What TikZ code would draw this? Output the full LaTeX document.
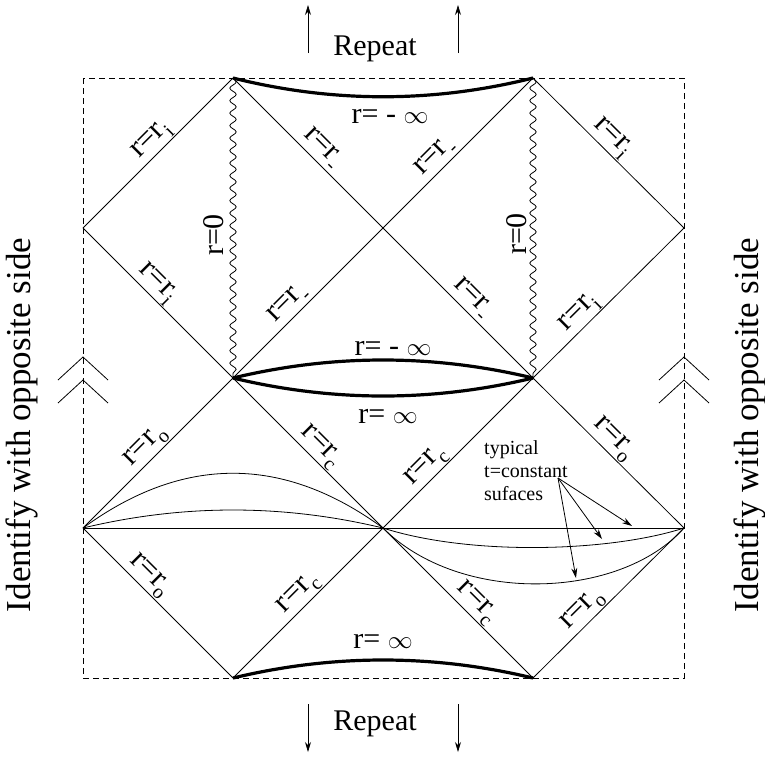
\documentclass[tikz,border=0pt]{standalone}
\usepackage{fontspec}
\setmainfont{Liberation Serif}
\usetikzlibrary{arrows.meta,decorations.pathmorphing}
\newcommand\sbs[1]{\raisebox{-0.25em}{\fontsize{20}{20}\selectfont #1}}
\begin{document}
\begin{tikzpicture}[x=1pt,y=-1pt,
  thinline/.style={line width=0.8pt},
  infty/.style={line width=3.2pt},
  wavy/.style={line width=0.8pt, decorate, decoration={snake, segment length=12.5pt, amplitude=3.2pt}},
  lab/.style={sloped, above, inner sep=1pt, font=\fontsize{31}{32}\selectfont},
  big/.style={font=\fontsize{30}{32}\selectfont, inner sep=0pt},
  side/.style={font=\fontsize{35}{36}\selectfont, inner sep=0pt, rotate=90},
  small/.style={font=\fontsize{20}{23}\selectfont, inner sep=0pt, align=left},
  tip/.style={-{Stealth[length=10pt,width=6pt]}, line width=0.8pt},
  dashbox/.style={line width=0.8pt, dash pattern=on 6pt off 4pt},
]
\useasboundingbox (0,0) rectangle (765,758);
% vertices
\coordinate (T1) at (233,78);  \coordinate (T2) at (533,78);
\coordinate (L1) at (83,228);  \coordinate (C1) at (383,228); \coordinate (R1) at (684,228);
\coordinate (M1) at (233,378); \coordinate (M2) at (533,378);
\coordinate (L2) at (83,528);  \coordinate (C2) at (383,528); \coordinate (R2) at (684,528);
\coordinate (B1) at (233,678); \coordinate (B2) at (533,678);
% dashed frame
\draw[dashbox] (83,78) rectangle (684,678);
% upper diamonds
\draw[thinline] (L1) -- node[lab,pos=.52]{r=r\sbs{i}} (T1);
\draw[thinline] (L1) -- node[lab,pos=.43]{r=r\sbs{i}} (M1);
\draw[thinline] (T1) -- node[lab,pos=.53]{r=r\sbs{-}} (C1);
\draw[thinline] (C1) -- node[lab,pos=.41]{r=r\sbs{-}} (T2);
\draw[thinline] (T2) -- node[lab,pos=.46]{r=r\sbs{i}} (R1);
\draw[thinline] (M2) -- node[lab,pos=.37]{r=r\sbs{i}} (R1);
\draw[thinline] (M1) -- node[lab,pos=.43]{r=r\sbs{-}} (C1);
\draw[thinline] (C1) -- node[lab,pos=.53]{r=r\sbs{-}} (M2);
% lower diamonds
\draw[thinline] (L2) -- node[lab,pos=.48]{r=r\sbs{o}} (M1);
\draw[thinline] (M1) -- node[lab,pos=.52]{r=r\sbs{c}} (C2);
\draw[thinline] (C2) -- node[lab,pos=.35]{r=r\sbs{c}} (M2);
\draw[thinline] (M2) -- node[lab,pos=.47]{r=r\sbs{o}} (R2);
\draw[thinline] (L2) -- node[lab,pos=.38]{r=r\sbs{o}} (B1);
\draw[thinline] (B1) -- node[lab,pos=.50]{r=r\sbs{c}} (C2);
\draw[thinline] (C2) -- node[lab,pos=.56]{r=r\sbs{c}} (B2);
\draw[thinline] (B2) -- node[lab,pos=.39]{r=r\sbs{o}} (R2);
% singularities r=0
\draw[wavy] (T1) -- (M1);
\draw[wavy] (T2) -- (M2);
\node[big,rotate=90] (z1) at (214,235) {r=0};
\node[big,rotate=90] (z2) at (517,234) {r=0};
% infinity boundaries
\draw[infty] (T1) .. controls (333,103) and (433,103) .. (T2);
\draw[infty] (M1) .. controls (333,354) and (433,354) .. (M2);
\draw[infty] (M1) .. controls (333,402) and (433,402) .. (M2);
\draw[infty] (B1) .. controls (333,654) and (433,654) .. (B2);
\node[big,anchor=base] (i1) at (390,123) {r= - $\infty$};
\node[big,anchor=base] (i2) at (393,355) {r= - $\infty$};
\node[big,anchor=base] (i3) at (388,423) {r= $\infty$};
\node[big,anchor=base] (i4) at (383,648) {r= $\infty$};
% t = constant surfaces
\draw[thinline] (L2) -- (R2);
\draw[thinline] (L2) .. controls (183,455) and (283,455) .. (C2);
\draw[thinline] (L2) .. controls (183,504) and (283,504) .. (C2);
\draw[thinline] (C2) .. controls (470,556) and (610,552) .. (R2);
\draw[thinline] (C2) .. controls (460,605) and (620,600) .. (R2);
\node[small,anchor=north west] (txt) at (484,440) {typical\\t=constant\\sufaces};
\coordinate (src) at (558,478);
\coordinate (a1) at (632,526);
\coordinate (a2) at (602,539);
\coordinate (a3) at (576,578);
\draw[tip] (src) -- (a1);
\draw[tip] (src) -- (a2);
\draw[tip] (src) -- (a3);
% repeat
\node[big,anchor=base] (rep1) at (375,55) {Repeat};
\node[big,anchor=base] (rep2) at (375,730) {Repeat};
\coordinate (u1s) at (308,53); \coordinate (u1e) at (308,5);
\coordinate (u2s) at (458,53); \coordinate (u2e) at (458,5);
\coordinate (d1s) at (308,704); \coordinate (d1e) at (308,752);
\coordinate (d2s) at (458,704); \coordinate (d2e) at (458,752);
\draw[tip] (u1s) -- (u1e);
\draw[tip] (u2s) -- (u2e);
\draw[tip] (d1s) -- (d1e);
\draw[tip] (d2s) -- (d2e);
% identification
\node[side] (id1) at (22,425) {Identify with opposite side};
\node[side] (id2) at (750,425) {Identify with opposite side};
\draw[thinline] (58,380) -- (83,357) -- (108,380);
\draw[thinline] (58,403) -- (83,380) -- (108,403);
\draw[thinline] (659,380) -- (684,357) -- (709,380);
\draw[thinline] (659,403) -- (684,380) -- (709,403);
\end{tikzpicture}
\end{document}
